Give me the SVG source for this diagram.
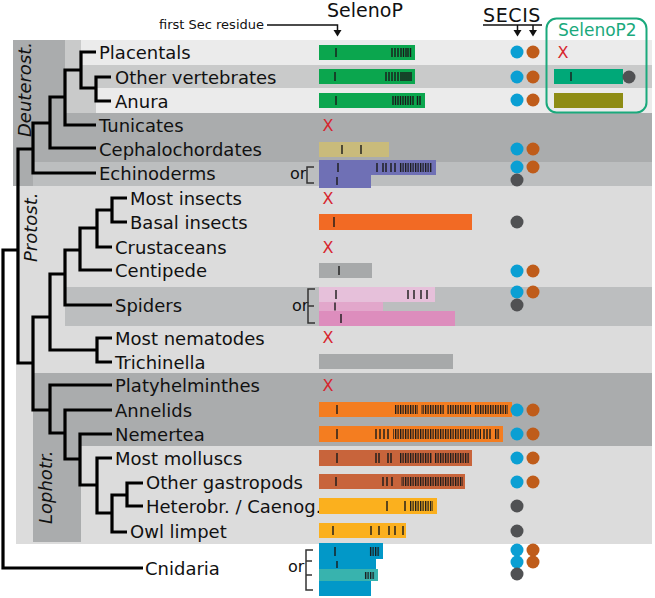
<svg xmlns="http://www.w3.org/2000/svg" width="655" height="598" viewBox="0 0 655 598">
<defs>
<style>
text{font-family:"DejaVu Sans",sans-serif;fill:#111}
.lb{font-size:18px}
.it{font-size:18px;font-style:italic}
.or{font-size:16px}
.x{font-size:16px;fill:#d7262e;text-anchor:middle}
.tr{fill:none;stroke:#000;stroke-width:3.2;stroke-linejoin:miter}
.tk{fill:none;stroke:#1a1a1a;stroke-width:1.4}
.br{fill:none;stroke:#333;stroke-width:1.5}
.ar{fill:none;stroke:#111;stroke-width:1.5}
.b{fill:#0a9fd3}.o{fill:#bf5c1a}.d{fill:#505153}
.grn{fill:#0ba64e}.org{fill:#f47d20}.brn{fill:#c8643b}.yel{fill:#fbb01e}.gry{fill:#a7a9aa}.cn{fill:#0298c8}
.dk{fill:#aaacad}.md{fill:#c9caca}.mb{fill:#bcbebf}.lt{fill:#ebebeb}.pl{fill:#dcdcdc}
</style>
<pattern id="bc" width="2.5" height="20" patternUnits="userSpaceOnUse"><rect width="1.3" height="20" fill="#1a1a1a"/></pattern>
</defs>

<g id="background">
<rect class="dk" x="13" y="40" width="639" height="146"/>
<rect class="md" x="65" y="40" width="587" height="73"/>
<rect class="lt" x="81" y="40" width="571" height="25"/>
<rect class="lt" x="96" y="88" width="556" height="25"/>
<rect class="mb" x="33" y="162" width="619" height="24"/>
<rect class="pl" x="16" y="186" width="636" height="358"/>
<rect class="mb" x="65" y="287" width="587" height="39"/>
<rect class="dk" x="33" y="373" width="619" height="73"/>
<rect class="dk" x="33" y="446" width="48" height="96"/>
<text class="it" transform="translate(31,137) rotate(-90)">Deuterost.</text>
<text class="it" transform="translate(37,262) rotate(-90)">Protost.</text>
<text class="it" transform="translate(52,524) rotate(-90)">Lophotr.</text>
</g>

<g id="header">
<text x="159" y="29" style="font-size:13px">first Sec residue</text>
<path class="ar" d="M267 25H337.5V31"/>
<polygon points="333.5,30 341.5,30 337.5,36.5" fill="#111"/>
<text x="327" y="17" style="font-size:19px">SelenoP</text>
<text x="483" y="22" style="font-size:19px;letter-spacing:0.6px">SECIS</text>
<path class="ar" d="M483 25H542M517.5 25V31M533 25V31"/>
<polygon points="513.5,30 521.5,30 517.5,36.5" fill="#111"/>
<polygon points="529,30 537,30 533,36.5" fill="#111"/>
</g>

<g id="selenop2-box">
<rect x="546.5" y="18.5" width="100" height="94" rx="10" fill="none" stroke="#1aa97c" stroke-width="2"/>
<text x="558" y="36" style="font-size:17px;fill:#1aa97c">SelenoP2</text>
</g>

<g id="connectors">
<path class="tr" d="M143 568H3V250H18"/>
<path class="tr" d="M33 149H18V363H33"/>
<path class="tr" d="M50 123H33V173H96"/>
<path class="tr" d="M65 97H50V148H96"/>
<path class="tr" d="M81 70H65V125H96"/>
<path class="tr" d="M96 52H81V88H96"/>
<path class="tr" d="M111 77H96V101H111"/>
<path class="tr" d="M50 317H33V410H50"/>
<path class="tr" d="M65 274H50V350H97"/>
<path class="tr" d="M112 338H97V362H112"/>
<path class="tr" d="M80 250H65V305H112"/>
<path class="tr" d="M97 228H80V270H112"/>
<path class="tr" d="M112 210H97V247H112"/>
<path class="tr" d="M127 198H112V222H127"/>
<path class="tr" d="M112 385H50V433H65"/>
<path class="tr" d="M112 410H65V459H80"/>
<path class="tr" d="M112 434H80V485H97"/>
<path class="tr" d="M112 458H97V513H112"/>
<path class="tr" d="M127 495H112V532H127"/>
<path class="tr" d="M143 483H127V506H143"/>
</g>

<g id="placentals">
<text class="lb" x="99" y="59">Placentals</text>
<rect class="grn" x="319" y="45" width="96" height="15"/>
<path class="tk" d="M336 48v9M392 48v9M395 48v9M398 48v9M401 48v9M403.5 48v9M406 48v9M408 48v9M410.5 48v9"/>
<circle class="b" cx="517" cy="52" r="6.5"/><circle class="o" cx="533" cy="52" r="6.5"/>
<text class="x" x="563" y="58">X</text>
</g>

<g id="other-vertebrates">
<text class="lb" x="115" y="84">Other vertebrates</text>
<rect class="grn" x="319" y="69" width="96" height="15"/>
<path class="tk" d="M335 72v9M386 72v9M389 72v9M392 72v9M395 72v9M398 72v9M401 72v9M403 72v9M405 72v9M407 72v9M409 72v9M411 72v9"/>
<circle class="b" cx="517" cy="77" r="6.5"/><circle class="o" cx="533" cy="77" r="6.5"/>
<rect x="554" y="69" width="69" height="15" fill="#00a878"/>
<path class="tk" d="M571 72v9"/>
<circle class="d" cx="629" cy="77" r="6.5"/>
</g>

<g id="anura">
<text class="lb" x="115" y="108">Anura</text>
<rect class="grn" x="319" y="93" width="106" height="15"/>
<path class="tk" d="M336 96v9M393 96v9M395.5 96v9M398 96v9M400.5 96v9M403 96v9M405.5 96v9M408 96v9M410.5 96v9M413 96v9M417.5 96v9M420 96v9"/>
<circle class="b" cx="517" cy="100" r="6.5"/><circle class="o" cx="533" cy="100" r="6.5"/>
<rect x="554" y="93" width="69" height="15" fill="#8e8c14"/>
</g>

<g id="tunicates">
<text class="lb" x="99" y="132">Tunicates</text>
<text class="x" x="328" y="131">X</text>
</g>

<g id="cephalochordates">
<text class="lb" x="99" y="156">Cephalochordates</text>
<rect x="319" y="142" width="70" height="15" fill="#c9bb7b"/>
<path class="tk" d="M342 145v9M361 145v9"/>
<circle class="b" cx="517" cy="149" r="6.5"/><circle class="o" cx="533" cy="149" r="6.5"/>
</g>

<g id="echinoderms">
<text class="lb" x="99" y="180">Echinoderms</text>
<text class="or" x="290" y="179">or</text>
<path class="br" d="M314 167H307V183H314"/>
<polygon points="319,160 436,160 436,175 371,175 371,188 319,188" fill="#6f70b5"/>
<path class="tk" d="M338 163v9M377 163v9M383 163v9M386 163v9M391 163v9M395 163v9M337 177v8"/>
<rect x="399" y="163" width="33" height="9" fill="url(#bc)"/>
<circle class="b" cx="517" cy="167" r="6.5"/><circle class="o" cx="533" cy="167" r="6.5"/>
<circle class="d" cx="517" cy="180" r="6.5"/>
</g>

<g id="most-insects">
<text class="lb" x="130" y="205">Most insects</text>
<text class="x" x="328" y="204">X</text>
</g>

<g id="basal-insects">
<text class="lb" x="130" y="229">Basal insects</text>
<rect x="319" y="214" width="153" height="16" fill="#f26a24"/>
<path class="tk" d="M334 217v10"/>
<circle class="d" cx="517" cy="222" r="6.5"/>
</g>

<g id="crustaceans">
<text class="lb" x="115" y="254">Crustaceans</text>
<text class="x" x="328" y="253">X</text>
</g>

<g id="centipede">
<text class="lb" x="115" y="277">Centipede</text>
<rect class="gry" x="319" y="263" width="53" height="15"/>
<path class="tk" d="M339 266v9"/>
<circle class="b" cx="517" cy="271" r="6.5"/><circle class="o" cx="533" cy="271" r="6.5"/>
</g>

<g id="spiders">
<text class="lb" x="115" y="312">Spiders</text>
<text class="or" x="292" y="311">or</text>
<path class="br" d="M315 289H308V323H315M308 306H314"/>
<rect x="319" y="287" width="116" height="15" fill="#e6c0da"/>
<rect x="319" y="302" width="64" height="9" fill="#e2a7cb"/>
<rect x="319" y="311" width="136" height="15" fill="#dd8dbd"/>
<path class="tk" d="M336 290v9M408 290v9M414 290v9M421 290v9M427 290v9M335 302.5v8M341 314v9"/>
<circle class="b" cx="517" cy="292" r="6.5"/><circle class="o" cx="533" cy="292" r="6.5"/>
<circle class="d" cx="517" cy="305" r="6.5"/>
</g>

<g id="most-nematodes">
<text class="lb" x="115" y="345">Most nematodes</text>
<text class="x" x="328" y="343">X</text>
</g>

<g id="trichinella">
<text class="lb" x="115" y="369">Trichinella</text>
<rect class="gry" x="319" y="354" width="134" height="15"/>
</g>

<g id="platyhelminthes">
<text class="lb" x="115" y="392">Platyhelminthes</text>
<text class="x" x="328" y="391">X</text>
</g>

<g id="annelids">
<text class="lb" x="115" y="417">Annelids</text>
<rect class="org" x="319" y="402" width="193" height="15"/>
<path class="tk" d="M337 405v9"/>
<rect x="395" y="405" width="23" height="9" fill="url(#bc)"/>
<rect x="421" y="405" width="23" height="9" fill="url(#bc)"/>
<rect x="447" y="405" width="24" height="9" fill="url(#bc)"/>
<rect x="474" y="405" width="34" height="9" fill="url(#bc)"/>
<circle class="b" cx="517" cy="410" r="6.5"/><circle class="o" cx="533" cy="410" r="6.5"/>
</g>

<g id="nemertea">
<text class="lb" x="115" y="441">Nemertea</text>
<rect class="org" x="319" y="426" width="184" height="16"/>
<path class="tk" d="M337 429v10M376 429v10M380 429v10M384 429v10M388 429v10M484 429v10M487 429v10M490 429v10"/>
<rect x="393" y="429" width="88" height="10" fill="url(#bc)"/>
<rect x="495" y="429" width="5" height="10" fill="url(#bc)"/>
<circle class="b" cx="517" cy="434" r="6.5"/><circle class="o" cx="533" cy="434" r="6.5"/>
</g>

<g id="most-molluscs">
<text class="lb" x="115" y="465">Most molluscs</text>
<rect class="brn" x="319" y="450" width="153" height="16"/>
<path class="tk" d="M337 453v10M376 453v10M379 453v10M388 453v10M391 453v10"/>
<rect x="400" y="453" width="32" height="10" fill="url(#bc)"/>
<rect x="435" y="453" width="34" height="10" fill="url(#bc)"/>
<circle class="b" cx="517" cy="458" r="6.5"/><circle class="o" cx="533" cy="458" r="6.5"/>
</g>

<g id="other-gastropods">
<text class="lb" x="146" y="489">Other gastropods</text>
<rect class="brn" x="319" y="474" width="146" height="15"/>
<path class="tk" d="M336 477v9M383 477v9M387 477v9M392 477v9"/>
<rect x="401" y="477" width="62" height="9" fill="url(#bc)"/>
<circle class="b" cx="517" cy="482" r="6.5"/><circle class="o" cx="533" cy="482" r="6.5"/>
</g>

<g id="heterobr-caenog">
<text class="lb" x="146" y="513">Heterobr. / Caenog.</text>
<rect class="yel" x="319" y="498" width="118" height="16"/>
<path class="tk" d="M387 501v10M405 501v10"/>
<rect x="410" y="501" width="23" height="10" fill="url(#bc)"/>
<circle class="d" cx="517" cy="506" r="6.5"/>
</g>

<g id="owl-limpet">
<text class="lb" x="130" y="538">Owl limpet</text>
<rect class="yel" x="319" y="523" width="87" height="15"/>
<path class="tk" d="M333 526v9M371 526v9M379 526v9M389 526v9M395 526v9M403 526v9"/>
<circle class="d" cx="517" cy="531" r="6.5"/>
</g>

<g id="cnidaria">
<text class="lb" x="145" y="575">Cnidaria</text>
<text class="or" x="288" y="572">or</text>
<path class="br" d="M313 550H306V590H313M306 561H312M306 575H312"/>
<rect class="cn" x="319" y="543" width="64" height="16"/>
<rect class="cn" x="319" y="558" width="57" height="11"/>
<rect x="319" y="569" width="59" height="12" fill="#38b3ae"/>
<rect class="cn" x="319" y="581" width="52" height="15"/>
<path class="tk" d="M335 547v9M337 561v7"/>
<rect x="369" y="547" width="11" height="9" fill="url(#bc)"/>
<rect x="364" y="572" width="11" height="7" fill="url(#bc)"/>
<circle class="b" cx="517" cy="550" r="6.5"/><circle class="o" cx="533" cy="550" r="6.5"/>
<circle class="b" cx="517" cy="562" r="6.5"/><circle class="o" cx="533" cy="562" r="6.5"/>
<circle class="d" cx="517" cy="574" r="6.5"/>
</g>
</svg>
